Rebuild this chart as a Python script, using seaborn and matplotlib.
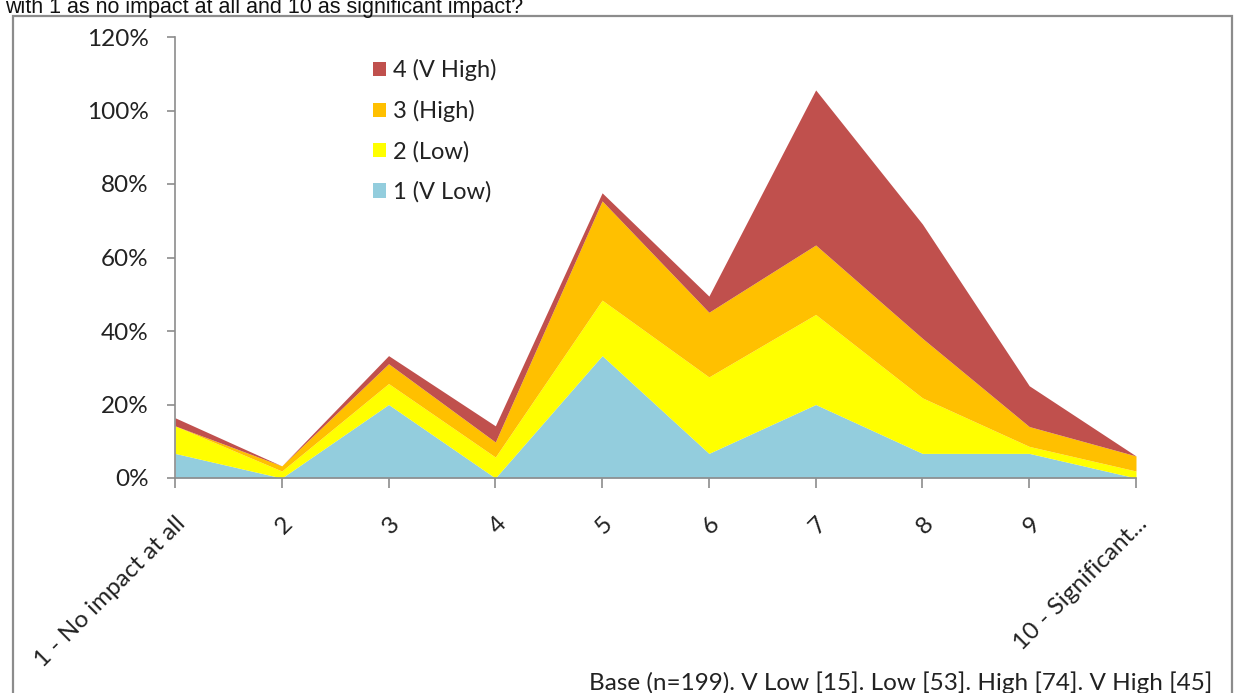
import numpy as np
import pandas as pd
import matplotlib
matplotlib.use('Agg')
import matplotlib.pyplot as plt
from matplotlib import font_manager
from matplotlib.patches import Patch, Rectangle
from matplotlib.ticker import PercentFormatter
import seaborn as sns

# 카테고리 (1~10 영향도)
categories = ['1 - No impact at all', '2', '3', '4', '5', '6', '7', '8', '9', '10 - Significant...']
# 각 그룹별 비율(%)
v_low = [6.7, 0.0, 20.0, 0.0, 33.3, 6.7, 20.0, 6.7, 6.7, 0.0]
low = [7.5, 1.9, 5.7, 5.7, 15.1, 20.8, 24.5, 15.1, 1.9, 1.9]
high = [0.0, 1.4, 5.4, 4.1, 27.0, 17.6, 18.9, 16.2, 5.4, 4.1]
v_high = [2.2, 0.0, 2.2, 4.4, 2.2, 4.4, 42.2, 31.1, 11.1, 0.0]
series_names = ['1 (V Low)', '2 (Low)', '3 (High)', '4 (V High)']
colors = ['#93CDDD', '#FFFF00', '#FFC000', '#C0504D']

df = pd.DataFrame({'1 (V Low)': v_low, '2 (Low)': low,
                   '3 (High)': high, '4 (V High)': v_high}, index=categories)

sns.set_theme(style='white')
plt.rcParams['font.family'] = ['Lato', 'DejaVu Sans']

# 제목용 좁은 글꼴 있으면 사용
names = {f.name for f in font_manager.fontManager.ttflist}
if 'Liberation Sans Narrow' in names:
    title_family, title_size = ['Liberation Sans Narrow', 'DejaVu Sans'], 18
else:
    title_family, title_size = ['Liberation Sans', 'DejaVu Sans'], 15.5

fig = plt.figure(figsize=(12.35, 6.93), dpi=100)
ax = fig.add_axes([175/1235, 1 - 478/693, (1136-175)/1235, (478-37)/693])

x = np.arange(len(categories))
ax.stackplot(x, [df[c].values for c in series_names], colors=colors, linewidth=0)

ax.set_xlim(0, len(categories) - 1)
ax.set_ylim(0, 120)
ax.set_yticks(range(0, 121, 20))
ax.yaxis.set_major_formatter(PercentFormatter(100, decimals=0))
ax.set_xticks(x)
ax.set_xticklabels(categories, rotation=45, ha='right', va='top', rotation_mode='anchor')

for s in ['top', 'right']:
    ax.spines[s].set_visible(False)
for s in ['left', 'bottom']:
    ax.spines[s].set_color('#8C8C8C')
    ax.spines[s].set_linewidth(1.2)
ax.tick_params(axis='y', which='major', direction='out', length=6, width=1.2,
               color='#8C8C8C', left=True, labelsize=17.5, pad=13, labelcolor='#222222')
ax.tick_params(axis='x', which='major', direction='out', length=7, width=1.2,
               color='#8C8C8C', bottom=True, labelsize=17.5, pad=18, labelcolor='#222222')

# 범례 (역순)
handles = [Patch(facecolor=colors[i], edgecolor='none') for i in range(3, -1, -1)]
labels = [series_names[i] for i in range(3, -1, -1)]
fig.legend(handles, labels, loc='upper left', bbox_to_anchor=(373/1235, 1 - 59/693),
           frameon=False, fontsize=17, handlelength=0.55, handleheight=0.55,
           handletextpad=0.3, labelspacing=0.8, borderpad=0, borderaxespad=0,
           labelcolor='#222222')

# 바깥 테두리
fig.patches.append(Rectangle((13/1235, -0.1), (1232-13)/1235, (693-16)/693 + 0.1,
                             transform=fig.transFigure, fill=False,
                             edgecolor='#8C8C8C', linewidth=1.6))

# 위쪽 잘린 질문 텍스트
fig.text(5/1235, 1 - 13/693, 'with 1 as no impact at all and 10 as significant impact?',
         family=title_family, fontsize=title_size, va='baseline', ha='left',
         color='#111111')

# 아래 Base 주석
fig.text(1212/1235, 1 - 683/693, 'Base (n=199). V Low [15]. Low [53]. High [74]. V High [45]',
         fontsize=17.5, ha='right', va='center', color='#222222')

fig.savefig('out.png', dpi=100)
